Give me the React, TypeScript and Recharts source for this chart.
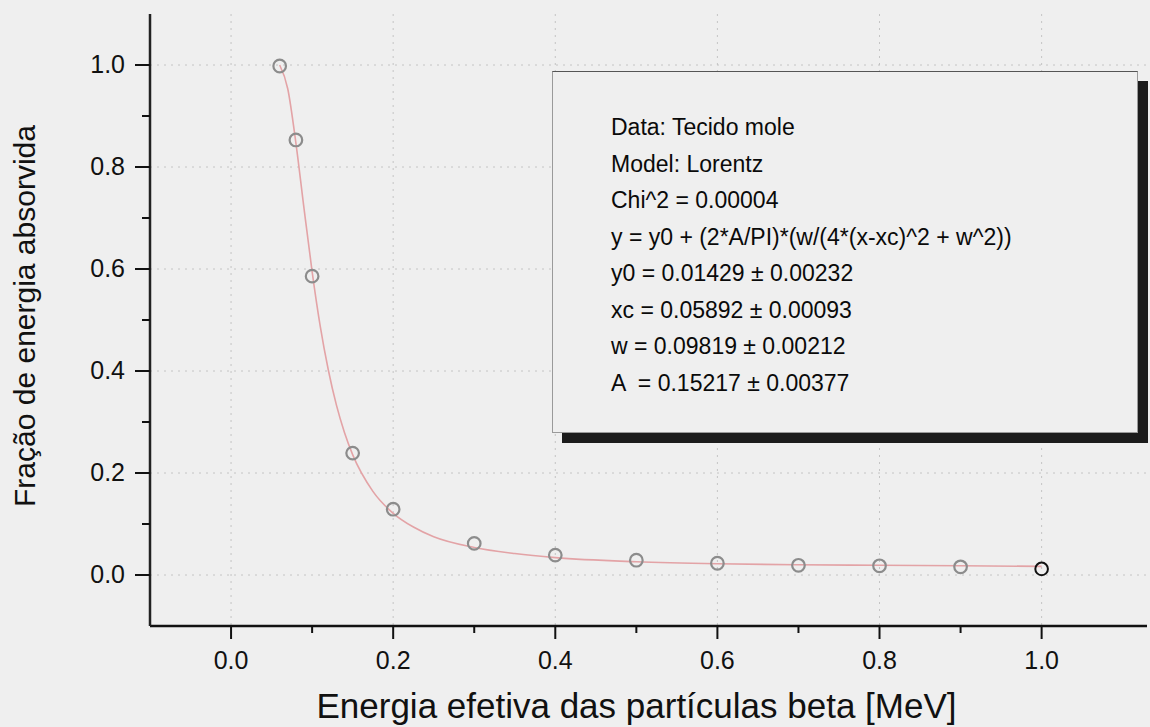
import {
  ComposedChart,
  Line,
  Scatter,
  XAxis,
  YAxis,
  CartesianGrid,
  Label,
} from "recharts";

// measured points (tecido mole)
const ENERGY = [0.06, 0.08, 0.1, 0.15, 0.2, 0.3, 0.4, 0.5, 0.6, 0.7, 0.8, 0.9, 1.0];
const FRACTION = [0.998, 0.853, 0.586, 0.239, 0.129, 0.062, 0.039, 0.029, 0.023, 0.019, 0.018, 0.016, 0.012];

// Lorentz fit curve
const FIT_X = [0.06, 0.07, 0.08, 0.09, 0.1, 0.11, 0.12, 0.13, 0.14, 0.15, 0.175, 0.2, 0.225, 0.25, 0.3, 0.35, 0.4, 0.5, 0.6, 0.7, 0.8, 0.9, 1.0];
const FIT_Y = [1.0, 0.953, 0.847, 0.719, 0.595, 0.488, 0.402, 0.333, 0.279, 0.236, 0.164, 0.121, 0.094, 0.075, 0.054, 0.042, 0.034, 0.026, 0.022, 0.02, 0.019, 0.018, 0.017];

const X_TICKS = [0, 0.1, 0.2, 0.3, 0.4, 0.5, 0.6, 0.7, 0.8, 0.9, 1.0];
const Y_TICKS = [0, 0.1, 0.2, 0.3, 0.4, 0.5, 0.6, 0.7, 0.8, 0.9, 1.0];
const GRID_VALUES = [0, 0.2, 0.4, 0.6, 0.8, 1.0];

const FIT_TEXT = [
  "Data: Tecido mole",
  "Model: Lorentz",
  "Chi^2 = 0.00004",
  "y = y0 + (2*A/PI)*(w/(4*(x-xc)^2 + w^2))",
  "y0 = 0.01429 ± 0.00232",
  "xc = 0.05892 ± 0.00093",
  "w = 0.09819 ± 0.00212",
  "A  = 0.15217 ± 0.00377",
];

const FONT = '"Liberation Sans", Arial, sans-serif';
const BG = "#efefef";

const points = ENERGY.map((x, i) => ({ x, y: FRACTION[i] }));
const fit = FIT_X.map((x, i) => ({ x, y: FIT_Y[i] }));

const isMajor = (v: number) => Math.round(v * 10) % 2 === 0;

const XTick = (props: any) => {
  const { x, y, payload } = props;
  const major = isMajor(payload.value);
  return (
    <g>
      <line x1={x} x2={x} y1={y} y2={y + (major ? 13 : 7)} stroke="#111" strokeWidth={2} />
      {major && (
        <text x={x} y={y + 43} textAnchor="middle" fontSize={25} fill="#111" fontFamily={FONT}>
          {payload.value.toFixed(1)}
        </text>
      )}
    </g>
  );
};

const YTick = (props: any) => {
  const { x, y, payload } = props;
  const major = isMajor(payload.value);
  return (
    <g>
      <line x1={x - (major ? 15 : 8)} x2={x} y1={y} y2={y} stroke="#111" strokeWidth={2} />
      {major && (
        <text x={x - 25} y={y + 8} textAnchor="end" fontSize={25} fill="#111" fontFamily={FONT}>
          {payload.value.toFixed(1)}
        </text>
      )}
    </g>
  );
};

const Marker = (props: any) => {
  const { cx, cy, payload } = props;
  const last = payload && payload.x === ENERGY[ENERGY.length - 1];
  return (
    <circle
      cx={cx}
      cy={cy}
      r={6.3}
      fill="none"
      stroke={last ? "#111" : "#8c8c8c"}
      strokeWidth={last ? 2 : 2.2}
    />
  );
};

export default function App() {
  return (
    <div
      style={{
        position: "absolute",
        left: 0,
        top: 0,
        width: 1150,
        height: 727,
        background: BG,
        fontFamily: FONT,
      }}
    >
      <ComposedChart
        width={1150}
        height={727}
        margin={{ top: 14, right: 3, left: 0, bottom: 0 }}
      >
        <CartesianGrid
          horizontalValues={GRID_VALUES}
          verticalValues={GRID_VALUES}
          stroke="#c4c4c4"
          strokeDasharray="2 5"
        />
        <XAxis
          dataKey="x"
          type="number"
          domain={[-0.1, 1.13]}
          allowDataOverflow
          ticks={X_TICKS}
          interval={0}
          tickSize={0}
          tickMargin={0}
          tickLine={false}
          tick={<XTick />}
          height={101}
          axisLine={{ stroke: "#111", strokeWidth: 2.5 }}
        >
          <Label
            content={(p: any) => {
              const vb = p.viewBox;
              return (
                <text
                  x={vb.x + vb.width / 2 - 12}
                  y={vb.y + 92}
                  textAnchor="middle"
                  fontSize={35}
                  fill="#111"
                  fontFamily={FONT}
                >
                  Energia efetiva das partículas beta [MeV]
                </text>
              );
            }}
          />
        </XAxis>
        <XAxis
          xAxisId="top"
          orientation="top"
          type="number"
          domain={[-0.1, 1.13]}
          height={0}
          tick={false}
          tickLine={false}
          axisLine={{ stroke: "#333", strokeWidth: 2 }}
        />
        <YAxis
          type="number"
          domain={[-0.1, 1.1]}
          allowDataOverflow
          ticks={Y_TICKS}
          interval={0}
          tickSize={0}
          tickMargin={0}
          tickLine={false}
          tick={<YTick />}
          width={150}
          axisLine={{ stroke: "#222", strokeWidth: 2.5 }}
        >
          <Label
            content={(p: any) => {
              const vb = p.viewBox;
              const cy = vb.y + vb.height / 2 - 4;
              return (
                <text
                  transform={`translate(${vb.x + 35}, ${cy}) rotate(-90)`}
                  textAnchor="middle"
                  fontSize={30}
                  fill="#111"
                  fontFamily={FONT}
                >
                  Fração de energia absorvida
                </text>
              );
            }}
          />
        </YAxis>
        <YAxis
          yAxisId="right"
          orientation="right"
          type="number"
          domain={[-0.1, 1.1]}
          width={0}
          tick={false}
          tickLine={false}
          axisLine={{ stroke: "#444", strokeWidth: 2 }}
        />
        <Line
          data={fit}
          dataKey="y"
          type="monotone"
          stroke="#e3a3a6"
          strokeWidth={1.6}
          dot={false}
          activeDot={false}
          isAnimationActive={false}
        />
        <Scatter data={points} dataKey="y" shape={<Marker />} isAnimationActive={false} />
      </ComposedChart>
      <div
        style={{
          position: "absolute",
          left: 552,
          top: 71,
          width: 584,
          height: 360,
          border: "1px solid #9a9a9a",
          borderTopColor: "#555",
          background: BG,
          boxShadow: "10px 10px 0 #1c1c1c",
          boxSizing: "content-box",
        }}
      >
        <div style={{ paddingLeft: 58, paddingTop: 37 }}>
          {FIT_TEXT.map((t) => (
            <div
              key={t}
              style={{ fontSize: 23, lineHeight: "36.5px", color: "#0a0a0a", whiteSpace: "pre" }}
            >
              {t}
            </div>
          ))}
        </div>
      </div>
    </div>
  );
}
